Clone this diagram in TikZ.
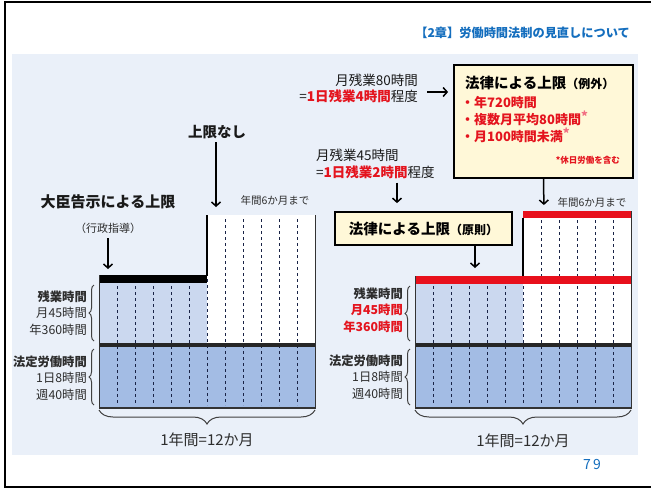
\documentclass[tikz,border=0pt]{standalone}
\usepackage{fontspec}
\setmainfont{Noto Sans CJK JP}
\usetikzlibrary{decorations.pathreplacing,arrows.meta}
\definecolor{panel}{RGB}{234,240,249}
\definecolor{otfill}{RGB}{203,216,239}
\definecolor{legalfill}{RGB}{163,188,228}
\definecolor{hdrblue}{RGB}{20,110,190}
\definecolor{redt}{RGB}{228,20,30}
\definecolor{barred}{RGB}{232,16,28}
\definecolor{pinkast}{RGB}{242,110,130}
\definecolor{boxy}{RGB}{255,248,216}
\definecolor{dashc}{RGB}{25,35,70}
\definecolor{txt}{RGB}{45,45,45}
\begin{document}
\begin{tikzpicture}[x=1pt,y=-1pt,
  lbl/.style={inner sep=0pt, text=txt},
  arr/.style={line width=1.5pt, -{Straight Barb[length=4pt,width=9pt]}},
  dsh/.style={dashc, line width=1pt, dash pattern=on 3pt off 3pt},
  brc/.style={decorate, decoration={brace, amplitude=#1}, line width=1pt, black!75},
  brc/.default=5pt,
  capbox/.style={draw=black, line width=1.8pt, fill=boxy, inner sep=0pt},
  sidel/.style={line width=0.8pt, black!80},
]
\useasboundingbox (0,0) rectangle (651,488);
\fill[white] (0,0) rectangle (651,488);
% frame
\draw[line width=2pt] (660,2) -- (5,2) -- (5,486.5) -- (660,486.5);
% panel
\fill[panel] (12,54) rectangle (638,455);

% header
\node[lbl, anchor=east, text=hdrblue, font=\bfseries\fontsize{12.2}{14}\selectfont] (hdr) at (630,33) {【2章】労働時間法制の見直しについて};

%================ LEFT CHART ================
\fill[otfill] (99,283) rectangle (207,343);
\fill[white] (207,215) rectangle (315,343);
\fill[legalfill] (99,347) rectangle (315,407);
\foreach \k in {1,...,5} \draw[dsh] (99+18*\k,286) -- (99+18*\k,405);
\foreach \k in {6,...,11} \draw[dsh] (99+18*\k,219) -- (99+18*\k,405);
\fill[black] (99,275) rectangle (207,283);
\fill[black!85] (99,343) rectangle (315,347);
\fill[black!80] (99,406.5) rectangle (315,409);
\draw[sidel] (99,275) -- (99,409);
\draw[sidel] (315,215) -- (315,409);
\draw[line width=1.2pt] (207,215) -- (207,276);

\node[lbl, anchor=east, align=right, font=\fontsize{12.3}{16.5}\selectfont] (otLblL) at (87,313) {\textbf{残業時間}\\月45時間\\年360時間};
\node[lbl, anchor=east, align=right, font=\fontsize{12.3}{16.5}\selectfont] (lgLblL) at (87,378) {\textbf{法定労働時間}\\1日8時間\\週40時間};
\draw[brc] (94,341) -- (94,285);
\draw[brc] (94,405) -- (94,349);
\draw[brc=14pt] (315,410) -- (99,410);
\node[lbl, font=\fontsize{15}{17}\selectfont] (yrL) at (207,440) {1年間=12か月};

\node[lbl, font=\bfseries\fontsize{15}{17}\selectfont, text=black!90] (daijin) at (108,202) {大臣告示による上限};
\node[lbl, font=\fontsize{11}{12}\selectfont] (gyosei) at (108,228) {（行政指導）};
\coordinate (otTopL) at (108,275);
\draw[arr, shorten <=5pt, shorten >=6pt] (gyosei.south) -- (otTopL);

\node[lbl, font=\bfseries\fontsize{14.5}{17}\selectfont, text=black!90] (nashi) at (217,132) {上限なし};
\coordinate (wTopL) at (216,215);
\draw[arr, shorten <=3pt, shorten >=8pt] (nashi.south -| wTopL) -- (wTopL);
\node[lbl, font=\fontsize{10.5}{12}\selectfont] (six1) at (275,200) {年間6か月まで};

%================ RIGHT CHART ================
\fill[otfill] (415,284) rectangle (523,343);
\fill[white] (523,218) rectangle (631,343);
\fill[legalfill] (415,347) rectangle (631,407);
\foreach \k in {1,...,5} \draw[dsh] (415+18*\k,286) -- (415+18*\k,405);
\foreach \k in {6,...,11} \draw[dsh] (415+18*\k,220) -- (415+18*\k,405);
\fill[barred] (523,211) rectangle (631,218);
\fill[barred] (415,276) rectangle (631,284);
\fill[black!85] (415,343) rectangle (631,347);
\fill[black!80] (415,406.5) rectangle (631,409);
\draw[sidel] (415,276) -- (415,409);
\draw[sidel] (631,211) -- (631,409);
\draw[line width=1.2pt] (523,218) -- (523,276);

\node[lbl, anchor=east, align=right, font=\fontsize{12.3}{16.5}\selectfont] (otLblR) at (403,310) {\textbf{残業時間}\\\textcolor{redt}{\textbf{月45時間}}\\\textcolor{redt}{\textbf{年360時間}}};
\node[lbl, anchor=east, align=right, font=\fontsize{12.3}{16.5}\selectfont] (lgLblR) at (403,377) {\textbf{法定労働時間}\\1日8時間\\週40時間};
\draw[brc] (410,341) -- (410,286);
\draw[brc] (410,405) -- (410,349);
\draw[brc=14pt] (631,410) -- (415,410);
\node[lbl, font=\fontsize{15}{17}\selectfont] (yrR) at (523,441) {1年間=12か月};

% exception box
\node[capbox, minimum width=179pt, minimum height=113pt] (exc) at (543.5,121.5) {};
\node[lbl, anchor=west, text=black, font=\bfseries\fontsize{14.5}{16}\selectfont] (excT) at (465,83) {法律による上限{\fontsize{12}{12}\selectfont （例外）}};
\node[lbl, anchor=west, align=left, text=redt, font=\bfseries\fontsize{13}{17}\selectfont] (excL) at (461,120) {・年720時間\\・複数月平均80時間\raisebox{3pt}{\textcolor{pinkast}{*}}\\・月100時間未満\raisebox{3pt}{\textcolor{pinkast}{*}}};
\node[lbl, anchor=east, text=redt, font=\bfseries\fontsize{8.5}{10}\selectfont] (note) at (620,160) {*休日労働を含む};

\node[lbl, anchor=east, align=right, text=black!90, font=\fontsize{13.5}{16}\selectfont] (m80) at (418,88) {月残業80時間\\=\textcolor{redt}{\textbf{1日残業4時間}}程度};
\coordinate (r80) at ([yshift=-4pt]m80.east);
\draw[arr, shorten <=9pt, shorten >=5pt] (r80) -- (r80 -| exc.west);
\coordinate (wTopR) at (544,211);
\draw[arr, shorten >=6pt] (exc.south) -- (wTopR);
\node[lbl, font=\fontsize{10.5}{12}\selectfont] (six2) at (592,202) {年間6か月まで};

\node[lbl, anchor=west, align=left, text=black!90, font=\fontsize{13.5}{17}\selectfont] (m45) at (316,163.5) {月残業45時間\\=\textcolor{redt}{\textbf{1日残業2時間}}程度};

% principle box
\node[capbox, minimum width=177pt, minimum height=33pt] (prin) at (423.5,228.5) {\textbf{\fontsize{14.5}{16}\selectfont 法律による上限}{\fontsize{12}{12}\selectfont\bfseries （原則）}};
\coordinate (c45) at (397,0);
\draw[arr, shorten <=4pt, shorten >=8pt] (m45.south -| c45) -- (prin.north -| c45);
\coordinate (otTopR) at (475,276);
\draw[arr, shorten >=8pt] (prin.south -| otTopR) -- (otTopR);

% page number
\node[lbl, text=hdrblue, font=\fontsize{14}{16}\selectfont] (pg) at (592,465) {7\,9};
\end{tikzpicture}
\end{document}
